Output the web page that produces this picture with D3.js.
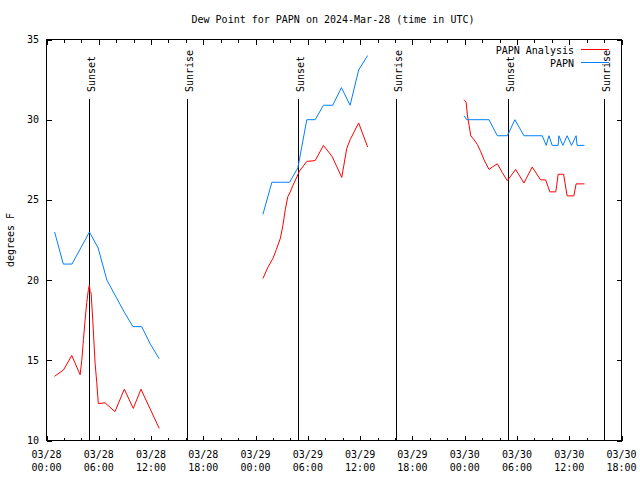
<!DOCTYPE html>
<html><head><meta charset="utf-8">
<script src="https://cdn.jsdelivr.net/npm/d3@7"></script>
<style>
body{margin:0;background:#fff;}
text{font-family:"DejaVu Sans Mono",monospace;font-size:10px;fill:#000;}
</style></head>
<body><svg id="c" width="640" height="480"></svg>
<script>
// Hours since 2024-03-28 00:00 UTC; null value = gap
const analysisHours = [0.92,1.95,2.9,3.86,4.05,4.24,4.43,4.62,4.81,4.92,5.0,5.12,5.31,5.58,5.77,5.95,6.72,7.86,8.93,9.96,10.84,12.94,
  18,
  24.84,25.41,25.99,26.38,26.84,27.13,27.41,27.7,27.98,28.28,28.67,29.04,29.88,30.84,31.79,32.79,33.89,34.46,34.85,35.83,36.86,
  42,
  47.93,48.16,48.31,48.7,49.08,49.46,49.85,50.22,50.79,51.17,51.75,52.32,52.89,53.85,54.8,55.75,56.71,57.29,57.78,58.46,58.73,59.35,59.76,60.53,60.79,61.75];
const analysisValues = [14.0,14.4,15.3,14.1,15.0,16.3,17.5,18.6,19.4,19.7,19.3,19.2,17.5,14.8,13.6,12.3,12.35,11.8,13.2,12.0,13.2,10.75,
  null,
  20.1,20.8,21.35,21.9,22.6,23.4,24.4,25.2,25.5,25.9,26.35,26.8,27.4,27.45,28.4,27.7,26.4,28.2,28.75,29.8,28.3,
  null,
  31.25,31.1,30.3,29.0,28.75,28.45,28.0,27.5,26.9,27.05,27.25,26.7,26.2,26.9,26.05,27.05,26.25,26.25,25.5,25.5,26.6,26.6,25.25,25.25,26.0,26.0];

const obsHours = [0.93,1.93,2.93,3.93,4.93,5.93,6.93,7.93,8.93,9.93,10.93,11.93,12.93,
  18,
  24.84,25.87,26.88,27.9,28.85,29.88,30.84,31.79,32.86,33.85,34.85,35.83,36.86,
  42,
  47.93,48.24,50.79,51.75,52.89,53.77,54.8,56.9,57.36,57.67,58.04,58.73,58.81,59.27,59.76,60.26,60.79,60.9,61.75];
const obsValues = [23.0,21.0,21.0,22.0,23.0,22.0,20.0,19.0,18.0,17.1,17.1,16.0,15.1,
  null,
  24.1,26.1,26.1,26.1,27.0,30.0,30.0,30.9,30.9,32.0,30.9,33.1,34.0,
  null,
  30.25,30.0,30.0,29.0,29.0,30.0,29.0,29.0,28.4,29.0,28.4,28.4,29.0,28.4,29.0,28.4,29.0,28.4,28.4];

const sunEventHours = [4.93,16.15,28.87,40.09,52.92,64.03];
const sunEventLabels = ["Sunset","Sunrise","Sunset","Sunrise","Sunset","Sunrise"];

const yTicks = [10,15,20,25,30,35];
const seriesNames = ["PAPN Analysis","PAPN"];
const seriesColors = ["#ff0000","#0080ff"];
const titleText = "Dew Point for PAPN on 2024-Mar-28 (time in UTC)";
const yLabel = "degrees F";

const t0 = Date.UTC(2024,2,28,0,0);
const toDate = h => new Date(t0 + h*3600e3);

const L=46.5, R=621.5, T=39.5, B=440.5;
const svg = d3.select("#c");
const x = d3.scaleUtc().domain([toDate(0), toDate(66)]).range([L,R]);
const y = d3.scaleLinear().domain([10,35]).range([B,T]);

// title
svg.append("text").attr("x",333).attr("y",23).attr("text-anchor","middle").text(titleText);

// frame
svg.append("rect").attr("x",L).attr("y",T).attr("width",R-L).attr("height",B-T)
  .attr("fill","none").attr("stroke","#000").attr("shape-rendering","crispEdges");

// x ticks (every 2h, major every 6h)
const minor = d3.utcHour.every(2).range(toDate(0), toDate(66.01));
const gTicks = svg.append("g").attr("stroke","#000").attr("shape-rendering","crispEdges");
minor.forEach(d=>{
  const major = d.getUTCHours()%6===0;
  const len = major?5:3;
  const xx = Math.round(x(d))+0.5;
  gTicks.append("line").attr("x1",xx).attr("x2",xx).attr("y1",B).attr("y2",B-len);
  gTicks.append("line").attr("x1",xx).attr("x2",xx).attr("y1",T).attr("y2",T+len);
});
const majors = d3.utcHour.every(6).range(toDate(0), toDate(66.01));
const fmtD = d3.utcFormat("%m/%d"), fmtT = d3.utcFormat("%H:%M");
majors.forEach(d=>{
  const t = svg.append("text").attr("text-anchor","middle").attr("x",x(d));
  t.append("tspan").attr("x",x(d)).attr("y",457.5).text(fmtD(d));
  t.append("tspan").attr("x",x(d)).attr("y",471).text(fmtT(d));
});

// y ticks
yTicks.forEach(v=>{
  const yy = Math.round(y(v))+0.5;
  gTicks.append("line").attr("x1",L).attr("x2",L+5).attr("y1",yy).attr("y2",yy);
  gTicks.append("line").attr("x1",R).attr("x2",R-5).attr("y1",yy).attr("y2",yy);
  svg.append("text").attr("x",39).attr("y",y(v)).attr("dy","0.35em").attr("text-anchor","end").text(v);
});

// y label
svg.append("text").attr("transform","translate(14,240) rotate(-90)").attr("text-anchor","middle").text(yLabel);

// sunrise/sunset
sunEventHours.forEach((h,i)=>{
  const xx = Math.round(x(toDate(h)))+0.5;
  svg.append("line").attr("x1",xx).attr("x2",xx).attr("y1",99).attr("y2",B)
    .attr("stroke","#000").attr("shape-rendering","crispEdges");
  svg.append("text").attr("transform",`translate(${xx+5},92) rotate(-90)`)
    .attr("text-anchor","start").text(sunEventLabels[i]);
});

// lines
const line = d3.line().defined(d=>d.v!==null).x(d=>x(toDate(d.h))).y(d=>y(d.v));
const series = [
  analysisHours.map((h,i)=>({h,v:analysisValues[i]})),
  obsHours.map((h,i)=>({h,v:obsValues[i]}))
];
series.forEach((s,i)=>{
  svg.append("path").datum(s).attr("d",line).attr("fill","none")
    .attr("stroke",seriesColors[i]).attr("stroke-width",1);
});

// legend
seriesNames.forEach((n,i)=>{
  const yy = 49.5 + i*13;
  svg.append("text").attr("x",574).attr("y",yy+4).attr("text-anchor","end").text(n);
  svg.append("line").attr("x1",581).attr("x2",609).attr("y1",yy).attr("y2",yy)
    .attr("stroke",seriesColors[i]).attr("shape-rendering","crispEdges");
});
</script></body></html>
